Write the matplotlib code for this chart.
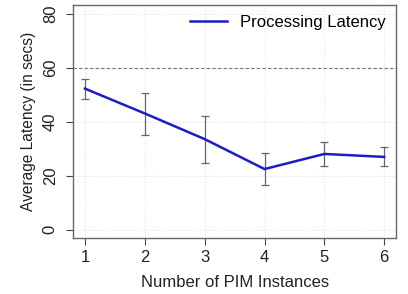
import matplotlib
matplotlib.use('Agg')
import matplotlib.pyplot as plt

plt.rcParams['font.family'] = ['Liberation Sans', 'DejaVu Sans']

instances = [1, 2, 3, 4, 5, 6]
latency = [52.2, 43.0, 33.5, 22.4, 28.0, 26.9]
err_low = [48.3, 35.0, 24.8, 16.5, 23.5, 23.5]
err_high = [55.8, 50.6, 42.1, 28.5, 32.3, 30.4]
threshold = 60
yticks = [0, 20, 40, 60, 80]

fig = plt.figure(figsize=(4.08, 2.94), dpi=100)
ax = fig.add_axes([0.179, 0.19, 0.792, 0.793])

# light dotted grid like R's grid()
for x in instances:
    ax.axvline(x, color='#e0e0e0', lw=0.8, ls=':', zorder=0)
for y in yticks:
    ax.axhline(y, color='#e0e0e0', lw=0.8, ls=':', zorder=0)

ax.axhline(threshold, color='#777777', lw=0.8, ls=(0, (3, 2)), zorder=1)

lo = [m - l for m, l in zip(latency, err_low)]
hi = [h - m for m, h in zip(latency, err_high)]
ax.errorbar(instances, latency, yerr=[lo, hi], fmt='none', ecolor='#666666',
            elinewidth=0.9, capsize=3, capthick=0.9, zorder=2)
ax.plot(instances, latency, color='#1c1cc8', lw=1.8, zorder=3,
        label='Processing Latency')

ax.set_xlim(0.8, 6.2)
ax.set_ylim(-3.2, 83.2)
ax.set_xticks(instances)
ax.set_yticks(yticks)
ax.tick_params(labelsize=12, color='#444444', labelcolor='#222222', length=5)
ax.tick_params(axis='y', pad=6)
for lab in ax.get_yticklabels():
    lab.set_rotation(90)
    lab.set_va('center')
for s in ax.spines.values():
    s.set_color('#666666')
    s.set_linewidth(1.0)

ax.set_xlabel('Number of PIM Instances', fontsize=12, color='#222222', labelpad=7)
ax.set_ylabel('Average Latency (in secs)', fontsize=11.2, color='#222222', labelpad=5)

leg = ax.legend(loc='upper right', frameon=False, fontsize=12,
                handlelength=2.2, borderaxespad=0.2)

fig.savefig('out.png', dpi=100)
